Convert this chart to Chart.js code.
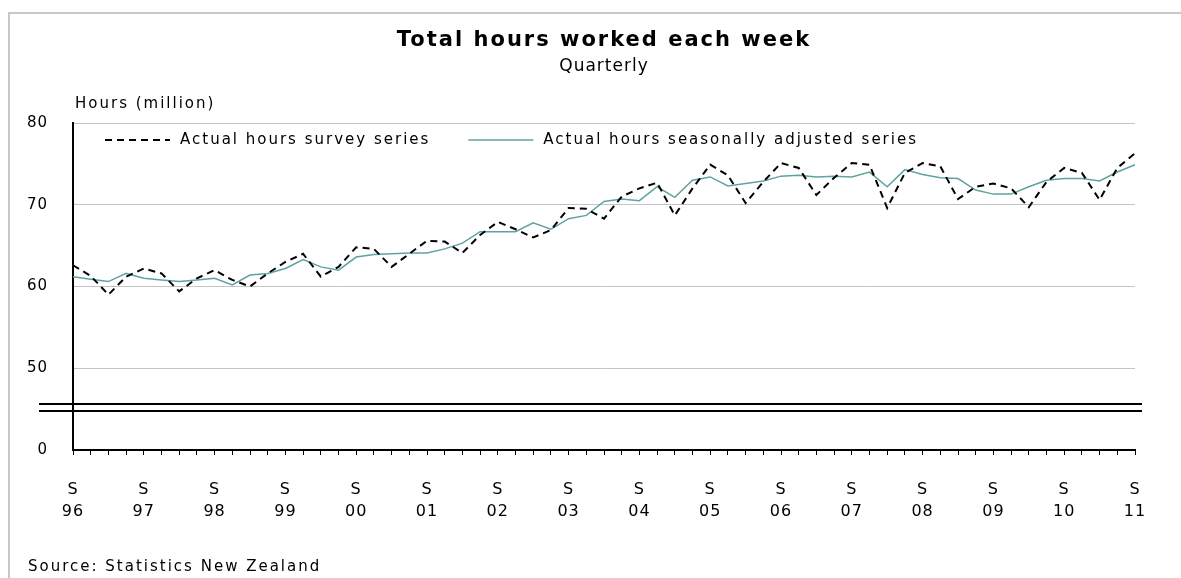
<!DOCTYPE html>
<html>
<head>
<meta charset="utf-8">
<script src="https://cdn.jsdelivr.net/npm/chart.js@4.4.0/dist/chart.umd.min.js"></script>
<style>
html,body{margin:0;padding:0;background:#fff;}
#wrap{width:1181px;height:578px;}
</style>
</head>
<body>
<div id="wrap"><canvas id="c" width="1181" height="578"></canvas></div>
<script>
// ---- data ----
const quarters = ["S96","D96","M97","J97","S97","D97","M98","J98","S98","D98","M99","J99",
  "S99","D99","M00","J00","S00","D00","M01","J01","S01","D01","M02","J02",
  "S02","D02","M03","J03","S03","D03","M04","J04","S04","D04","M05","J05",
  "S05","D05","M06","J06","S06","D06","M07","J07","S07","D07","M08","J08",
  "S08","D08","M09","J09","S09","D09","M10","J10","S10","D10","M11","J11","S11"];

const surveySeries = [62.6,61.3,59.0,61.2, 62.2,61.6,59.4,61.0, 62.0,60.8,60.0,61.6,
  63.0,64.0,61.2,62.4, 64.8,64.6,62.4,64.0, 65.6,65.5,64.1,66.3,
  67.9,67.0,66.0,66.9, 69.6,69.5,68.3,71.0, 72.0,72.7,68.7,72.0,
  74.9,73.6,70.2,72.8, 75.1,74.5,71.2,73.3, 75.1,74.9,69.6,73.9,
  75.1,74.7,70.7,72.2, 72.6,72.0,69.7,72.8, 74.5,73.9,70.6,74.5, 76.3];

const seasonalSeries = [61.2,60.9,60.6,61.6, 61.0,60.8,60.6,60.8, 61.0,60.2,61.4,61.6,
  62.2,63.3,62.4,62.0, 63.6,63.9,64.0,64.1, 64.1,64.6,65.3,66.7,
  66.7,66.7,67.8,67.0, 68.3,68.7,70.4,70.7, 70.5,72.2,70.9,73.0,
  73.4,72.3,72.6,72.9, 73.5,73.6,73.4,73.5, 73.4,74.0,72.2,74.3,
  73.7,73.3,73.2,71.8, 71.3,71.3,72.2,73.0, 73.2,73.2,72.9,74.0, 74.9];

const yTickValues = [40, 50, 60, 70, 80];
const yTickLabels = ["0", "50", "60", "70", "80"];
const seriesNames = ["Actual hours survey series", "Actual hours seasonally adjusted series"];
const chartTitle = "Total hours worked each week";
const chartSubtitle = "Quarterly";
const yAxisTitle = "Hours (million)";
const sourceNote = "Source: Statistics New Zealand";
const axisBreakValues = [44.75, 45.6];

// ---- styles ----
const FONT = '"DejaVu Sans", "Liberation Sans", Arial, sans-serif';
const TEAL = '#5fa3a0';
const DASH = [7, 5];

const decor = {
  id: 'decor',
  beforeDraw(chart) {
    const ctx = chart.ctx;
    ctx.save();
    ctx.fillStyle = '#fff';
    ctx.fillRect(0, 0, chart.width, chart.height);
    ctx.strokeStyle = '#c8c8c8';
    ctx.lineWidth = 2;
    ctx.beginPath();
    ctx.moveTo(9, chart.height);
    ctx.lineTo(9, 13);
    ctx.lineTo(chart.width, 13);
    ctx.stroke();
    ctx.restore();
    ctx.letterSpacing = '1px';
  },
  afterDraw(chart) {
    const ctx = chart.ctx, ca = chart.chartArea, ys = chart.scales.y;
    ctx.save();
    ctx.letterSpacing = '2px';
    // axis break
    ctx.strokeStyle = '#000';
    ctx.lineWidth = 2;
    axisBreakValues.forEach(v => {
      const py = Math.round(ys.getPixelForValue(v));
      ctx.beginPath();
      ctx.moveTo(ca.left - 34, py);
      ctx.lineTo(ca.right + 7, py);
      ctx.stroke();
    });
    // texts
    ctx.fillStyle = '#000';
    ctx.font = '15px ' + FONT;
    ctx.textBaseline = 'middle';
    ctx.textAlign = 'left';
    ctx.fillText(yAxisTitle, ca.left + 2, ca.top - 19);
    ctx.fillText(sourceNote, 28, chart.height - 11);
    // legend
    const ly = ca.top + 17;
    let x = ca.left + 32;
    chart.data.datasets.forEach(ds => {
      ctx.save();
      ctx.strokeStyle = ds.borderColor;
      ctx.lineWidth = ds.borderWidth;
      ctx.setLineDash(ds.borderDash || []);
      ctx.beginPath();
      ctx.moveTo(x, ly);
      ctx.lineTo(x + 65, ly);
      ctx.stroke();
      ctx.restore();
      ctx.fillText(ds.label, x + 75, ly);
      x = x + 75 + ctx.measureText(ds.label).width + 38;
    });
    ctx.restore();
    ctx.letterSpacing = '0px';
  }
};

// wider tracking for the title block and x labels
const titleSpacing = {
  id: 'titleSpacing',
  afterLayout(chart) {
    [chart.titleBlock, chart.subtitleBlock, chart.scales.x].forEach(b => {
      if (b && !b.__wrapped) {
        const orig = b.draw.bind(b);
        b.draw = function (area) {
          const ctx = chart.ctx;
          const prev = ctx.letterSpacing;
          ctx.letterSpacing = '2px';
          orig(area);
          ctx.letterSpacing = prev;
        };
        b.__wrapped = true;
      }
    });
  }
};

new Chart(document.getElementById('c'), {
  type: 'line',
  data: {
    labels: quarters,
    datasets: [
      {
        label: seriesNames[0],
        data: surveySeries,
        borderColor: '#000',
        borderWidth: 2,
        borderDash: DASH,
        pointRadius: 0,
        tension: 0,
        fill: false
      },
      {
        label: seriesNames[1],
        data: seasonalSeries,
        borderColor: TEAL,
        borderWidth: 1.5,
        pointRadius: 0,
        tension: 0,
        fill: false
      }
    ]
  },
  options: {
    responsive: false,
    animation: false,
    devicePixelRatio: 1,
    layout: { padding: { left: 0, right: 46, top: 0, bottom: 0 } },
    plugins: {
      legend: { display: false },
      tooltip: { enabled: false },
      title: {
        display: true,
        fullSize: false,
        text: chartTitle,
        color: '#000',
        font: { family: FONT, size: 21, weight: 'bold' },
        padding: { top: 28, bottom: 0 }
      },
      subtitle: {
        display: true,
        fullSize: false,
        text: chartSubtitle,
        color: '#000',
        font: { family: FONT, size: 17 },
        padding: { top: 3, bottom: 46.4 }
      }
    },
    scales: {
      x: {
        type: 'category',
        offset: false,
        afterFit(s) { s.height = 128; },
        border: { display: true, color: '#000', width: 2 },
        grid: { drawOnChartArea: false, drawTicks: true, tickLength: 5, color: '#000', lineWidth: 1 },
        ticks: {
          autoSkip: false,
          maxRotation: 0,
          minRotation: 0,
          padding: 24,
          color: '#000',
          font: { family: FONT, size: 16, lineHeight: 1.375 },
          callback: (v, i) => {
            const q = quarters[i];
            return q.charAt(0) === 'S' ? ['S', q.slice(1)] : '';
          }
        }
      },
      y: {
        min: 40,
        max: 80,
        afterFit(s) { s.width = 73; },
        border: { display: true, color: '#000', width: 2 },
        grid: {
          drawTicks: false,
          lineWidth: 1,
          color: c => (c.tick && c.tick.value === 40) ? 'rgba(0,0,0,0)' : '#c4c4c4'
        },
        ticks: {
          stepSize: 10,
          padding: 25,
          color: '#000',
          font: { family: FONT, size: 15 },
          callback: v => {
            const k = yTickValues.indexOf(v);
            return k >= 0 ? yTickLabels[k] : '';
          }
        }
      }
    }
  },
  plugins: [decor, titleSpacing]
});
</script>
</body>
</html>
